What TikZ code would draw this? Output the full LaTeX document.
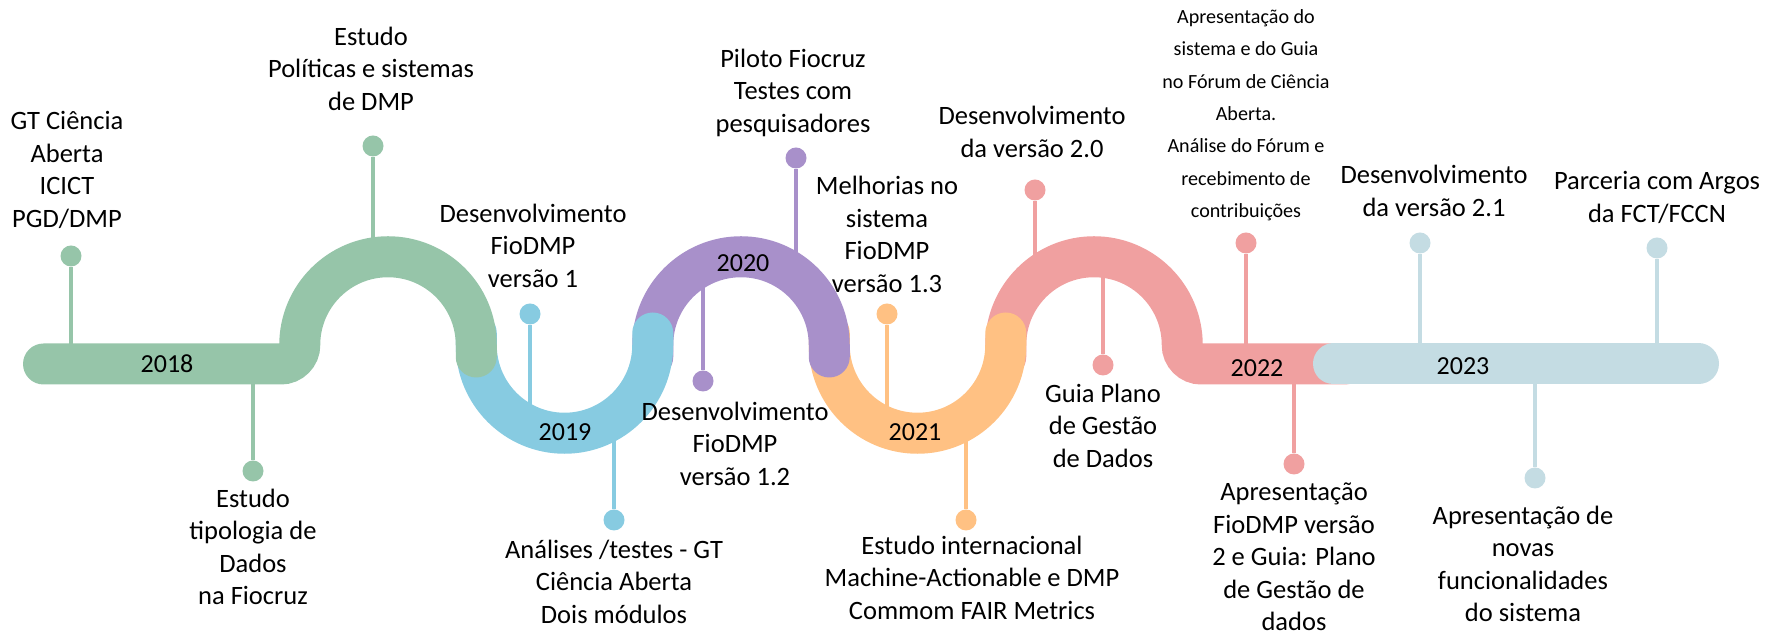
\documentclass[tikz,border=0pt]{standalone}
\usepackage{fontspec}
\setmainfont{Carlito}
\usepackage{tikz}
\usetikzlibrary{positioning}

\definecolor{c18}{RGB}{150,197,169}
\definecolor{c19}{RGB}{135,203,225}
\definecolor{c20}{RGB}{168,144,202}
\definecolor{c21}{RGB}{255,193,131}
\definecolor{c22}{RGB}{240,160,160}
\definecolor{c23}{RGB}{196,220,227}

\begin{document}
\begin{tikzpicture}[x=1pt, y=1pt,
    band/.style={draw=#1, line width=41pt, line cap=round},
    bead/.style={circle, fill=#1, minimum size=21pt, inner sep=0pt},
    stalk/.style={draw=#1, line width=4pt},
    lbl/.style={align=center, inner sep=0pt, font=\fontsize{26.5}{32.5}\selectfont,
                execute at begin node=\strut, execute at end node=\strut},
    lblsmall/.style={lbl, font=\fontsize{20.1}{32.3}\selectfont},
    year/.style={inner sep=0pt, font=\fontsize{26}{30}\selectfont}
]
\useasboundingbox (0,0) rectangle (1773,639);

% beads and their stalks down to the band
\foreach \n/\x/\y/\f/\c in {1/71/383/275/c18, 2/253/168/275/c18, 3/373/493/381/c18,
                            4/530/325/213/c19, 5/614/119/221/c19,
                            6/703/258/373/c20, 7/796/481/363/c20,
                            8/887/325/211/c21, 9/966/119/220/c21,
                            10/1035/449/359/c22, 11/1103/274/381/c22,
                            12/1246/396/275/c22, 13/1294/175/275/c22,
                            14/1420/396/275/c23, 15/1535/161/275/c23, 16/1657/391/275/c23} {
    \node[bead=\c] (d\n) at (\x,\y) {};
    \coordinate (f\n) at (\x,\f);
    \draw[stalk=\c] (d\n) -- (f\n);
}

% the wave, last years first
\draw[band=c22] (1005.75,282) -- (1005.75,294) arc[start angle=180, end angle=0, radius=88.25]
    .. controls (1182.25,283.5) and (1190.75,275) .. (1201.25,275) -- (1345,275);
\draw[band=c23] (1333.5,275) -- (1698.5,275);
\draw[band=c21] (829.25,306) -- (829.25,294) arc[start angle=180, end angle=360, radius=88.25] -- ++(0,12);
\draw[band=c20] (652.75,282) -- (652.75,294) arc[start angle=180, end angle=0, radius=88.25] -- ++(0,-12);
\draw[band=c19] (476.25,306) -- (476.25,294) arc[start angle=180, end angle=360, radius=88.25] -- ++(0,12);
\draw[band=c18] (43.5,275) -- (280.75,275) .. controls (291.25,275) and (299.75,283.5) .. (299.75,294)
    arc[start angle=180, end angle=0, radius=88.25] -- ++(0,-12);

\node[year] (y18) at (167,275)  {2018};
\node[year] (y19) at (565,207)  {2019};
\node[year] (y20) at (743,376)  {2020};
\node[year] (y21) at (915,207)  {2021};
\node[year] (y22) at (1257,271) {2022};
\node[year] (y23) at (1463,273) {2023};

% events
\node[lbl, above=8pt of d1, xshift=-4pt]   (gt)     {GT Ciência\\Aberta\\ICICT\\PGD/DMP};
\node[lbl, below=7pt of d2]                (tipo)   {Estudo\\tipologia de\\Dados\\na Fiocruz};
\node[lbl, above=15pt of d3, xshift=-2pt]  (polit)  {Estudo\\Políticas e sistemas\\de DMP};
\node[lbl, above=6pt of d4, xshift=3pt]    (dev1)   {Desenvolvimento\\FioDMP\\versão 1};
\node[lbl, below=9pt of d5]                (anal)   {Análises /testes - GT\\Ciência Aberta\\Dois módulos};
\node[lbl, below=10pt of d6, xshift=32pt]  (dev12)  {Desenvolvimento\\FioDMP\\versão 1.2};
\node[lbl, above=5pt of d7, xshift=-3pt]   (pilot)  {Piloto Fiocruz\\Testes com\\pesquisadores};
\node[lbl, above=1pt of d8]                (melh)   {Melhorias no\\sistema\\FioDMP\\versão 1.3};
\node[lbl, below=5pt of d9, xshift=6pt]    (intl)   {Estudo internacional\\Machine-Actionable e DMP\\Commom FAIR Metrics};
\node[lbl, above=12pt of d10, xshift=-3pt] (dev20)  {Desenvolvimento\\da versão 2.0};
\node[lbl, below=8pt of d11]               (guia)   {Guia Plano\\de Gestão\\de Dados};
\node[lblsmall, above=5pt of d12]          (forum)  {Apresentação do\\sistema e do Guia\\no Fórum de Ciência\\Aberta.\\Análise do Fórum e\\recebimento de\\contribuições};
\node[lbl, below=8pt of d13, execute at end node={}] (apr2) {Apresentação\\FioDMP versão\\2 e Guia: Plano\\de Gestão de\\dados};
\node[lbl, above=6pt of d14, xshift=14pt]  (dev21)  {Desenvolvimento\\da versão 2.1};
\node[lbl, below=17pt of d15, xshift=-12pt] (novas) {Apresentação de\\novas\\funcionalidades\\do sistema};
\node[lbl, above=5pt of d16]               (argos)  {Parceria com Argos\\da FCT/FCCN};
\end{tikzpicture}
\end{document}
